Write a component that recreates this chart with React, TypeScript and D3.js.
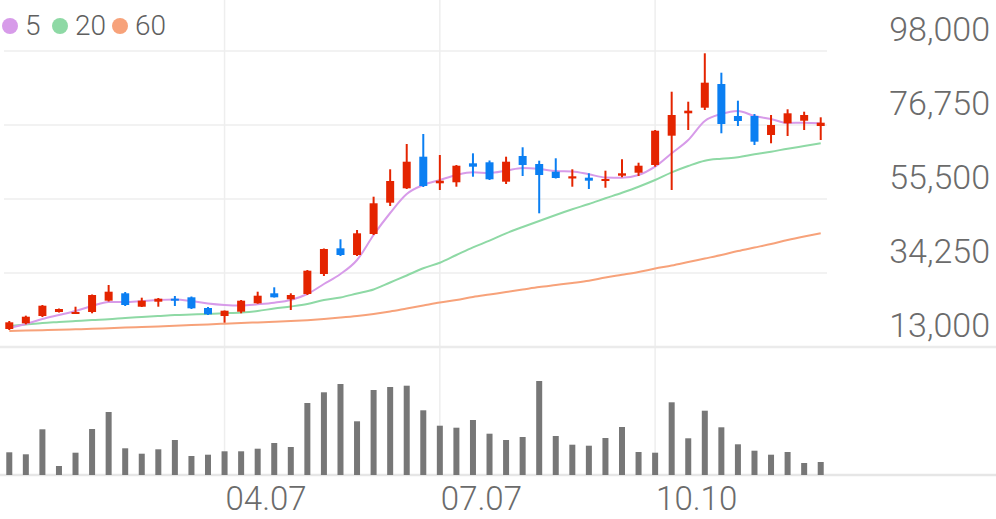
import React from "react";
import * as d3 from "d3";

// weekly candles, 50 of them
const opens = [18170, 19810, 21900, 23050, 22560, 23050, 26300, 28420, 24570, 26010, 26870, 27270, 24200, 21900, 23140, 25550, 28420, 26700, 28220, 33960, 41340, 39420, 45450, 54440, 58570, 67650, 60010, 60300, 65750, 66040, 60470, 67850, 65550, 63340, 61390, 61620, 60760, 62190, 63050, 65260, 73680, 80110, 81720, 88520, 79330, 79330, 73880, 77240, 77980, 76460];
const highs = [20470, 22000, 25060, 24050, 24570, 28080, 30800, 28790, 27160, 27070, 27650, 27500, 24490, 23480, 26500, 28880, 30140, 28420, 35110, 41290, 43930, 46600, 56160, 64030, 71290, 74170, 68140, 65260, 68620, 66560, 67650, 70350, 66500, 67190, 64030, 62880, 63630, 66900, 65920, 75310, 86310, 83440, 97340, 91770, 83730, 79910, 79620, 81260, 80570, 78960];
const lows = [17880, 19500, 21600, 22900, 22480, 22680, 26070, 24770, 24490, 24570, 24770, 23910, 22190, 19980, 22680, 25430, 27210, 23630, 27930, 33390, 39130, 39130, 45160, 53490, 58370, 58950, 58080, 59030, 61900, 60960, 59810, 62100, 51390, 61390, 59030, 58370, 58740, 61730, 62100, 64780, 58080, 75310, 81060, 74370, 76460, 71010, 71500, 73590, 75310, 72440];
const closes = [20090, 21700, 24860, 23910, 23050, 27930, 28880, 25060, 26300, 26870, 26500, 24110, 22390, 23420, 26300, 27730, 27270, 27930, 34910, 41140, 39420, 45650, 54270, 60670, 66210, 59230, 60760, 65060, 64780, 61160, 66210, 65260, 62390, 61530, 62020, 60760, 61240, 62880, 65060, 75110, 79620, 80860, 88900, 77040, 77900, 71960, 76750, 80110, 79620, 77410];
const volumes = [227, 207, 457, 90, 223, 460, 630, 267, 213, 257, 350, 190, 203, 237, 237, 263, 320, 280, 720, 827, 910, 537, 850, 880, 893, 647, 493, 473, 550, 413, 350, 380, 940, 390, 303, 293, 370, 480, 230, 223, 727, 367, 643, 477, 307, 243, 203, 230, 120, 130];

const ma5 = [18456, 19605, 21040, 22189, 23338, 24774, 25922, 25922, 26209, 26497, 26640, 26209, 25491, 25061, 24917, 25262, 25721, 26497, 28219, 31091, 33963, 37983, 45162, 51479, 56935, 59520, 60956, 62392, 63167, 62966, 63626, 64402, 64114, 63540, 63397, 62593, 61674, 61616, 62392, 64775, 68623, 72442, 77898, 79908, 80770, 79334, 78472, 77324, 77410, 77238];
const ma20 = [19030, 19461, 19892, 20179, 20466, 20753, 20954, 21328, 21615, 21902, 22189, 22333, 22476, 22677, 22907, 23338, 24055, 24630, 25348, 26497, 27214, 28363, 29512, 31522, 33532, 35600, 37208, 39419, 41630, 43525, 45650, 47459, 49182, 50905, 52542, 54064, 55701, 57309, 59032, 60956, 63167, 64976, 66498, 67072, 67474, 68336, 69082, 69944, 70719, 71495];
const ma60 = [17595, 17709, 17824, 17939, 18083, 18226, 18399, 18571, 18743, 18915, 19088, 19289, 19490, 19691, 19892, 20064, 20236, 20437, 20696, 21040, 21443, 21902, 22476, 23194, 24056, 24917, 25779, 26497, 27358, 28076, 28794, 29512, 30230, 30804, 31378, 32010, 32958, 33733, 34537, 35542, 36403, 37409, 38414, 39419, 40567, 41572, 42577, 43726, 44731, 45650];

const yTicks = [13000, 34250, 55500, 76750, 98000];
const xTickIndex = [13, 26, 39];
const xTickLabels = ["04.07", "07.07", "10.10"];

const legendNames = ["5", "20", "60"];
const maColors = ["#d79be9", "#8ed9a5", "#f7a27a"];
const UP = "#e42400";
const DOWN = "#0b7ff2";
const GRID = "#eeeeee";
const FONT = "Roboto, 'Noto Sans', sans-serif";

export default function App() {
  const width = 996;
  const height = 519;

  const idx = d3.range(closes.length);
  const x = d3.scaleBand<number>().domain(idx).range([1, 829]);
  const cx = (i: number) => (x(i) as number) + x.bandwidth() / 2;

  const y = d3.scaleLinear().domain([13000, 98000]).range([347, 51]);
  const yVol = d3.scaleLinear().domain([0, d3.max(volumes) as number]).range([475, 381]);

  const line = d3
    .line<number>()
    .x((_, i) => cx(i))
    .y((d) => y(d))
    .curve(d3.curveMonotoneX);

  const bodyW = 8;
  const volW = 6;

  return (
    <div>
      <style>{"body{margin:0}"}</style>
      <svg width={width} height={height} style={{ display: "block" }}>
        {/* vertical grid */}
        {xTickIndex.map((t) => (
          <line key={`vg${t}`} x1={cx(t)} x2={cx(t)} y1={0} y2={475} stroke={GRID} strokeWidth={1.5} />
        ))}
        {/* horizontal grid */}
        {yTicks.slice(1).map((t) => (
          <line key={`hg${t}`} x1={4} x2={827} y1={y(t)} y2={y(t)} stroke={GRID} strokeWidth={1.5} />
        ))}
        <line x1={0} x2={width} y1={y(13000)} y2={y(13000)} stroke="#ebebeb" strokeWidth={2.5} />
        <line x1={0} x2={width} y1={475} y2={475} stroke="#e6e6e6" strokeWidth={2.5} />

        {/* moving averages */}
        {[ma60, ma20, ma5].map((s, k) => (
          <path key={`ma${k}`} d={line(s) || ""} fill="none" stroke={maColors[2 - k]} strokeWidth={2} />
        ))}

        {/* candles */}
        {idx.map((i) => {
          const up = closes[i] >= opens[i];
          const c = up ? UP : DOWN;
          const top = y(Math.max(opens[i], closes[i]));
          const bot = y(Math.min(opens[i], closes[i]));
          return (
            <g key={`c${i}`}>
              <line x1={cx(i)} x2={cx(i)} y1={y(highs[i])} y2={y(lows[i])} stroke={c} strokeWidth={2} />
              <rect x={cx(i) - bodyW / 2} y={top} width={bodyW} height={Math.max(2, bot - top)} fill={c} />
            </g>
          );
        })}

        {/* volume */}
        {idx.map((i) => (
          <rect
            key={`v${i}`}
            x={cx(i) - volW / 2}
            y={yVol(volumes[i])}
            width={volW}
            height={475 - yVol(volumes[i])}
            fill="#777777"
          />
        ))}

        {/* y labels */}
        {yTicks.map((t) => (
          <text
            key={`yl${t}`}
            x={990}
            y={y(t) - 10}
            textAnchor="end"
            fontFamily={FONT}
            fontWeight={300}
            fontSize={34}
            fill="#6b6b6b"
          >
            {d3.format(",")(t)}
          </text>
        ))}

        {/* x labels */}
        {xTickIndex.map((t, k) => (
          <text
            key={`xl${t}`}
            x={cx(t) + 1}
            y={510}
            fontFamily={FONT}
            fontWeight={300}
            fontSize={33}
            fill="#6b6b6b"
          >
            {xTickLabels[k]}
          </text>
        ))}

        {/* legend */}
        {legendNames.map((n, k) => {
          const cxs = [10, 60, 120];
          return (
            <g key={`lg${n}`}>
              <circle cx={cxs[k]} cy={26} r={8} fill={maColors[k]} />
              <text x={cxs[k] + 15} y={35} fontFamily={FONT} fontSize={28} fontWeight={300} fill="#5f5f5f">
                {n}
              </text>
            </g>
          );
        })}
      </svg>
    </div>
  );
}
